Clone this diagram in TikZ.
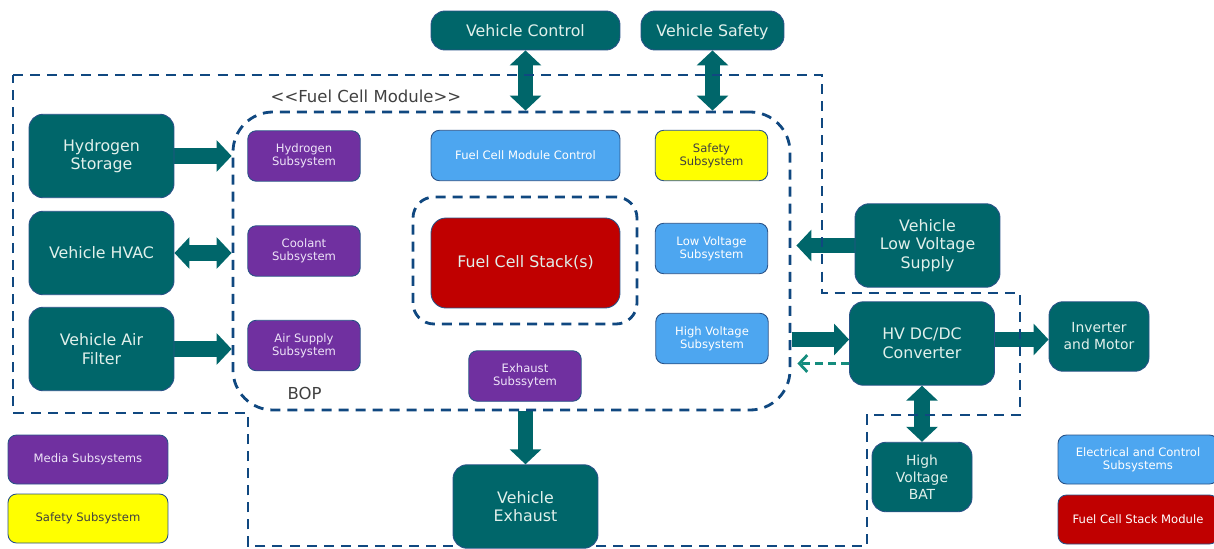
\documentclass[tikz,border=0pt]{standalone}
\usepackage{fontspec}
\setmainfont{DejaVu Sans}
\usetikzlibrary{arrows.meta,fit,calc,backgrounds}
\definecolor{fcteal}{RGB}{0,102,106}
\definecolor{fcpurple}{RGB}{112,48,160}
\definecolor{fcblue}{RGB}{77,166,240}
\definecolor{fcyellow}{RGB}{255,255,0}
\definecolor{fcred}{RGB}{192,0,0}
\definecolor{edgeblue}{RGB}{41,82,135}
\definecolor{dashblue}{RGB}{16,72,128}
\definecolor{dashgreen}{RGB}{20,140,125}
\definecolor{tealtext}{RGB}{225,240,235}
\definecolor{purpletext}{RGB}{238,228,248}
\definecolor{labelgray}{RGB}{64,64,64}

\begin{document}
\begin{tikzpicture}[x=0.02cm, y=-0.02cm,
    basebox/.style={draw=edgeblue, line width=0.5pt, align=center, inner sep=1pt},
    vehbox/.style={basebox, fill=fcteal, text=tealtext, rounded corners=0.28cm,
        font=\fontsize{9}{10.6}\selectfont},
    topveh/.style={minimum height=0.78cm, text height=1.6ex, text depth=0.3ex},
    bigveh/.style={minimum width=2.9cm, minimum height=1.67cm},
    smallveh/.style={minimum width=2cm, minimum height=1.39cm,
        font=\fontsize{7.9}{9.7}\selectfont},
    subbox/.style={basebox, rounded corners=0.17cm, minimum width=2.25cm, minimum height=1.01cm,
        font=\fontsize{6.6}{7.5}\selectfont},
    mediabox/.style={subbox, fill=fcpurple, text=purpletext},
    elecbox/.style={subbox, fill=fcblue, text=white},
    safebox/.style={subbox, fill=fcyellow, text=labelgray},
    legendbox/.style={minimum width=3.2cm, minimum height=0.98cm},
    groupbox/.style={draw=dashblue, line width=1.6pt, dash pattern=on 5.7pt off 4pt, inner sep=0pt},
    fatarrow/.style={draw=fcteal, line width=9pt, -{Triangle[width=17.5pt,length=8.5pt]}},
    fatboth/.style={fatarrow, {Triangle[width=17.5pt,length=8.5pt]}-{Triangle[width=17.5pt,length=8.5pt]}},
    backarrow/.style={draw=dashgreen, line width=1.6pt, dash pattern=on 4.5pt off 3pt,
        -{Straight Barb[length=4.5pt,width=9.5pt]}},
    lbl/.style={text=labelgray, font=\fontsize{9.4}{11}\selectfont}
]
    \useasboundingbox (0,0) rectangle (1214,548);

    % outside the module
    \node[vehbox, topveh, minimum width=3.78cm] (vctrl) at (525.5,30.5) {Vehicle Control};
    \node[vehbox, topveh, minimum width=2.86cm] (vsafety) at (712.5,30.5) {Vehicle Safety};
    \node[vehbox, bigveh] (h2store) at (101.5,156) {Hydrogen\\Storage};
    \node[vehbox, bigveh] (hvac) at (101.5,253) {Vehicle HVAC};
    \node[vehbox, bigveh] (airfilter) at (101.5,349) {Vehicle Air\\Filter};
    \node[vehbox, bigveh] (lvsupply) at (927.5,245.5) {Vehicle\\Low Voltage\\Supply};
    \node[vehbox, bigveh] (hvdcdc) at (922,343.5) {HV DC/DC\\Converter};
    \node[vehbox, smallveh] (inverter) at (1099,336.5) {Inverter\\and Motor};
    \node[vehbox, smallveh] (hvbat) at (922,477) {High\\Voltage\\BAT};
    \node[vehbox, bigveh] (vexhaust) at (525.5,506.5) {Vehicle\\Exhaust};

    % fuel cell module
    \node[groupbox, rounded corners=0.8cm, fit={(233,112) (790,410)}] (fcm) {};
    \node[groupbox, rounded corners=0.42cm, fit={(413,197) (637,324)}] (stackgroup) {};
    \node[lbl] (fcmlabel) at (366,96) {<{}<Fuel Cell Module>{}>};
    \node[lbl] (boplabel) at (304.5,393) {BOP};

    \node[mediabox] (h2sub) at (304,156) {Hydrogen\\Subsystem};
    \node[mediabox] (coolsub) at (304,251) {Coolant\\Subsystem};
    \node[mediabox] (airsub) at (304,345.5) {Air Supply\\Subsystem};
    \node[mediabox] (exhsub) at (525,376) {Exhaust\\Subssytem};
    \node[elecbox, minimum width=3.78cm] (fcmctrl) at (525.5,155.5) {Fuel Cell Module Control};
    \node[safebox] (safesub) at (711.5,155.5) {Safety\\Subsystem};
    \node[elecbox] (lvsub) at (711.5,248.5) {Low Voltage\\Subsystem};
    \node[elecbox] (hvsub) at (712,338.5) {High Voltage\\Subsystem};
    \node[basebox, fill=fcred, text=tealtext, rounded corners=0.3cm, minimum width=3.78cm,
        minimum height=1.8cm, font=\fontsize{9}{10.6}\selectfont] (stack) at (525.5,263) {Fuel Cell Stack(s)};

    % legend
    \node[mediabox, legendbox] (legmedia) at (88,459.5) {Media Subsystems};
    \node[safebox, legendbox] (legsafety) at (88,518.5) {Safety Subsystem};
    \node[elecbox, legendbox] (legelec) at (1138,459.5) {Electrical and Control\\Subsystems};
    \node[basebox, legendbox, fill=fcred, text=white, rounded corners=0.17cm,
        font=\fontsize{6.6}{7.5}\selectfont] (legstack) at (1138,519.5) {Fuel Cell Stack Module};

    \begin{scope}[on background layer]
        \draw[fatarrow] (h2store.east) -- (h2store.east -| fcm.west);
        \draw[fatboth] (hvac.east) -- (hvac.east -| fcm.west);
        \draw[fatarrow] (airfilter.east) -- (airfilter.east -| fcm.west);
        \draw[fatboth] (vctrl.south) -- (vctrl.south |- fcm.north);
        \draw[fatboth] (vsafety.south) -- (vsafety.south |- fcm.north);
        \draw[fatarrow] (lvsupply.west) -- ($(lvsupply.west -| fcm.east)+(5,0)$);
        \draw[fatarrow] ($(fcm.east |- hvdcdc.west)+(1,-4)$) -- ($(hvdcdc.west)+(0,-4)$);
        \draw[backarrow] ($(hvdcdc.west)+(0,20)$) -- ($(hvdcdc.west -| fcm.east)+(6,20)$);
        \draw[fatarrow] ($(hvdcdc.east)+(0,-4)$) -- ($(hvdcdc.east -| inverter.west)+(0,-4)$);
        \draw[fatboth] (hvdcdc.south) -- (hvbat.north);
        \draw[fatarrow] (vexhaust.north |- fcm.south) -- (vexhaust.north);

        \draw[groupbox] (13,75) -- (822,75) -- (822,293) -- (1020,293) -- (1020,415) -- (867,415)
            -- (867,546) -- (248,546) -- (248,413) -- (13,413) -- cycle;
    \end{scope}
\end{tikzpicture}
\end{document}
